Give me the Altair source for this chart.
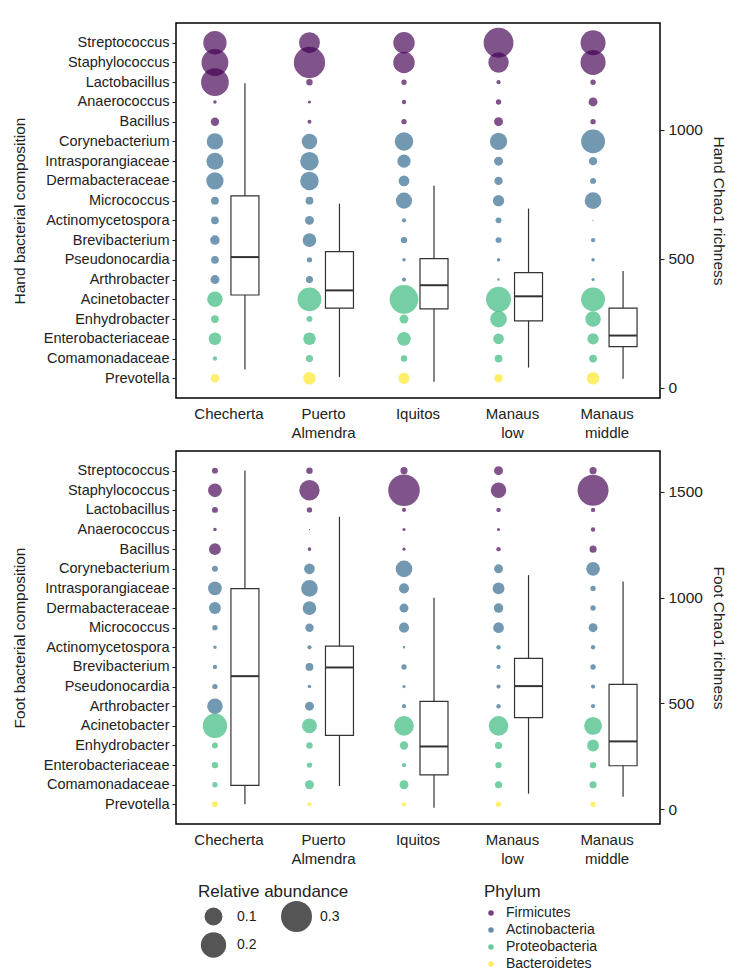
import altair as alt
import pandas as pd

sites = ["Checherta", "Puerto Almendra", "Iquitos", "Manaus low", "Manaus middle"]
taxa = ["Streptococcus", "Staphylococcus", "Lactobacillus", "Anaerococcus", "Bacillus",
        "Corynebacterium", "Intrasporangiaceae", "Dermabacteraceae", "Micrococcus",
        "Actinomycetospora", "Brevibacterium", "Pseudonocardia", "Arthrobacter",
        "Acinetobacter", "Enhydrobacter", "Enterobacteriaceae", "Comamonadaceae", "Prevotella"]
taxon_phylum = ["Firmicutes"] * 5 + ["Actinobacteria"] * 8 + ["Proteobacteria"] * 4 + ["Bacteroidetes"]
phyla = ["Firmicutes", "Actinobacteria", "Proteobacteria", "Bacteroidetes"]
phylum_colors = ["#440154", "#31688E", "#35B779", "#FDE725"]

# relative abundance per site, in taxa order
hand_checherta = [0.17, 0.225, 0.24, 0.004, 0.022, 0.084, 0.09, 0.093, 0.019, 0.019, 0.028, 0.019, 0.025, 0.075, 0.019, 0.049, 0.006, 0.022]
hand_puerto = [0.136, 0.306, 0.013, 0.003, 0.005, 0.075, 0.107, 0.107, 0.019, 0.025, 0.059, 0.009, 0.016, 0.178, 0.011, 0.049, 0.016, 0.049]
hand_iquitos = [0.144, 0.144, 0.009, 0.006, 0.009, 0.107, 0.054, 0.036, 0.081, 0.0055, 0.013, 0.004, 0.0055, 0.256, 0.025, 0.059, 0.013, 0.04]
hand_manaus_low = [0.278, 0.129, 0.0055, 0.009, 0.025, 0.093, 0.025, 0.022, 0.04, 0.011, 0.011, 0.004, 0.002, 0.196, 0.087, 0.036, 0.019, 0.022]
hand_manaus_mid = [0.196, 0.196, 0.009, 0.025, 0.009, 0.178, 0.022, 0.011, 0.087, 0.0005, 0.006, 0.004, 0.003, 0.178, 0.075, 0.04, 0.019, 0.049]

foot_checherta = [0.011, 0.059, 0.011, 0.004, 0.044, 0.011, 0.059, 0.044, 0.009, 0.004, 0.006, 0.009, 0.075, 0.187, 0.011, 0.013, 0.009, 0.011]
foot_puerto = [0.013, 0.129, 0.009, 0.0005, 0.004, 0.036, 0.087, 0.059, 0.022, 0.0055, 0.019, 0.004, 0.025, 0.069, 0.013, 0.009, 0.025, 0.0055]
foot_iquitos = [0.016, 0.312, 0.0055, 0.003, 0.003, 0.087, 0.032, 0.025, 0.032, 0.002, 0.009, 0.003, 0.0055, 0.121, 0.022, 0.006, 0.025, 0.006]
foot_manaus_low = [0.025, 0.075, 0.006, 0.003, 0.006, 0.025, 0.044, 0.028, 0.036, 0.006, 0.0055, 0.0055, 0.006, 0.121, 0.016, 0.013, 0.016, 0.009]
foot_manaus_mid = [0.016, 0.3, 0.006, 0.006, 0.016, 0.059, 0.009, 0.009, 0.025, 0.006, 0.009, 0.0055, 0.0055, 0.1, 0.044, 0.013, 0.016, 0.009]

# Chao1 richness box statistics per site
hand_lower = [70, 41, 23, 78, 35]
hand_q1 = [359, 308, 305, 259, 159]
hand_median = [506, 377, 397, 354, 202]
hand_q3 = [743, 527, 500, 446, 308]
hand_upper = [1180, 713, 782, 694, 452]

foot_lower = [24, 110, 8, 74, 60]
foot_q1 = [113, 349, 163, 433, 206]
foot_median = [629, 670, 297, 582, 321]
foot_q3 = [1042, 771, 510, 713, 590]
foot_upper = [1600, 1382, 999, 1106, 1076]

FONT = "Liberation Sans"
INK = "#222222"
BOXC = "#333333"


def dots_frame(cols):
    rows = []
    for site, vals in zip(sites, cols):
        for t, p, v in zip(taxa, taxon_phylum, vals):
            rows.append({"site": site, "taxon": t, "phylum": p, "abundance": v})
    return pd.DataFrame(rows)


def box_frame(lo, q1, med, q3, hi):
    return pd.DataFrame({"site": sites, "lower": lo, "q1": q1, "median": med, "q3": q3, "upper": hi})


x_axis = alt.Axis(title=None, labelExpr="split(datum.value, ' ')", ticks=False,
                  domain=False, labelAngle=0, labelFontSize=15, labelColor=INK,
                  labelPadding=8, labelLineHeight=19, labelFont=FONT)
x_scale = alt.Scale(type="band", paddingInner=0, paddingOuter=0.06)


def x_enc():
    return alt.X("site:N", sort=sites, scale=x_scale, axis=x_axis)


size_legend = alt.Legend(title="Relative abundance", orient="none", legendX=22, legendY=861,
                         values=[0.1, 0.2, 0.3], columns=2, format=".1f",
                         symbolFillColor="#555555", symbolStrokeWidth=0, symbolOpacity=1,
                         columnPadding=24, rowPadding=0, labelOffset=8, titlePadding=0)
color_legend = alt.Legend(title="Phylum", orient="none", legendX=308, legendY=861,
                          symbolType="circle", symbolSize=30, symbolOpacity=0.75,
                          rowPadding=3, labelOffset=8)


def panel(cols, box, body, domain, ticks, height):
    dots = alt.Chart(dots_frame(cols)).mark_circle(opacity=0.68, xOffset=-14).encode(
        x=x_enc(),
        y=alt.Y("taxon:N", sort=taxa, scale=alt.Scale(type="point", padding=1.6),
                axis=alt.Axis(title=f"{body} bacterial composition", orient="left",
                              domain=False, tickColor=INK, tickSize=4, labelFontSize=14.5,
                              labelColor=INK, labelFont=FONT, titleFont=FONT,
                              titleFontSize=15.5, titleFontWeight="normal", titleColor=INK,
                              titlePadding=16, labelPadding=3)),
        size=alt.Size("abundance:Q", scale=alt.Scale(domain=[0, 0.3], range=[0, 960]),
                      legend=size_legend),
        color=alt.Color("phylum:N", sort=phyla,
                        scale=alt.Scale(domain=phyla, range=phylum_colors),
                        legend=color_legend),
    )
    ys = alt.Scale(domain=domain, nice=False, zero=False)
    r_axis = alt.Axis(title=f"{body} Chao1 richness", orient="right", values=ticks,
                      format="d", grid=False, domain=False, tickColor=INK, tickSize=4,
                      labelFontSize=15.5, labelColor=INK, labelFont=FONT,
                      titleFont=FONT, titleFontSize=15.5, titleFontWeight="normal",
                      titleColor=INK, titlePadding=8, labelPadding=4)
    base = alt.Chart(box)
    whisker = base.mark_rule(xOffset=16, color=BOXC, strokeWidth=1.2).encode(
        x=x_enc(), y=alt.Y("lower:Q", scale=ys, axis=r_axis), y2="upper:Q")
    boxes = base.mark_bar(size=28, xOffset=16, fill="white", stroke=BOXC, strokeWidth=1.2).encode(
        x=x_enc(), y=alt.Y("q1:Q", scale=ys, axis=r_axis), y2="q3:Q")
    med = base.mark_tick(size=28, thickness=2, xOffset=16, color=BOXC, opacity=1).encode(
        x=x_enc(), y=alt.Y("median:Q", scale=ys, axis=r_axis))
    box_layer = alt.layer(whisker, boxes, med)
    return alt.layer(dots, box_layer).resolve_scale(y="independent").properties(
        width=484, height=height)


top = panel([hand_checherta, hand_puerto, hand_iquitos, hand_manaus_low, hand_manaus_mid],
            box_frame(hand_lower, hand_q1, hand_median, hand_q3, hand_upper),
            "Hand", [-40, 1413], [0, 500, 1000], 375)
bottom = panel([foot_checherta, foot_puerto, foot_iquitos, foot_manaus_low, foot_manaus_mid],
               box_frame(foot_lower, foot_q1, foot_median, foot_q3, foot_upper),
               "Foot", [-69, 1692], [0, 500, 1000, 1500], 373)

chart = alt.vconcat(top, bottom, spacing=9).resolve_scale(
    color="shared", size="shared").properties(
    padding={"left": 3, "top": 14, "right": 2, "bottom": 2}
).configure_view(stroke="black", strokeWidth=1.5).configure_legend(
    titleFont=FONT, titleFontSize=17, titleFontWeight="normal", titleColor=INK,
    labelFont=FONT, labelFontSize=14, labelColor=INK
)

chart.save("out.html", embed_options={"renderer": "svg", "actions": False})
